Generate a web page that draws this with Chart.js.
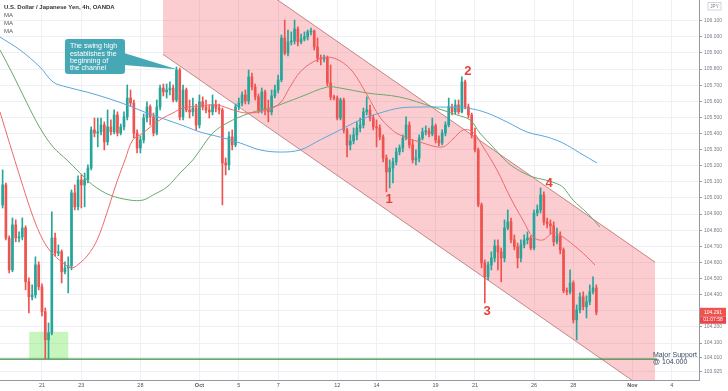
<!DOCTYPE html>
<html>
<head>
<meta charset="utf-8">
<title>USDJPY 4h</title>
<script src="https://cdn.jsdelivr.net/npm/chart.js@4.4.0/dist/chart.umd.min.js"></script>
<style>
html, body { margin: 0; padding: 0; background: #fff; }
#wrap { width: 728px; height: 391px; position: relative; }
</style>
</head>
<body>
<div id="wrap"><canvas id="chart"></canvas></div>
<script>
// bar index: 0 = Mon 21 Sep 00:00, one step per 4h candle (6 per trading day)
var firstBar = -12;

var opens = [
  104.957, 105.081, 104.752, 104.554, 104.833, 104.752, 104.759, 104.814, 104.480, 104.387,
  104.399, 104.585, 104.449, 104.294, 104.120, 104.163, 104.752, 104.659, 104.666, 104.542,
  104.566, 104.579, 105.031, 104.945, 105.112, 105.081, 105.112, 105.186, 105.422, 105.403,
  105.410, 105.453, 105.348, 105.441, 105.410, 105.515, 105.403, 105.441, 105.503, 105.620,
  105.589, 105.403, 105.310, 105.360, 105.496, 105.565, 105.503, 105.403, 105.565, 105.682,
  105.658, 105.670, 105.682, 105.608, 105.794, 105.503, 105.670, 105.546, 105.534, 105.558,
  105.453, 105.596, 105.565, 105.546, 105.534, 105.577, 105.558, 105.546, 105.217, 105.205,
  105.379, 105.329, 105.565, 105.589, 105.639, 105.602, 105.751, 105.689, 105.627, 105.546,
  105.658, 105.546, 105.534, 105.633, 105.670, 105.732, 105.992, 105.899, 105.968, 105.974,
  106.048, 105.968, 105.986, 105.999, 106.030, 106.036, 105.937, 105.868, 105.862, 105.868,
  105.713, 105.627, 105.620, 105.496, 105.608, 105.422, 105.329, 105.354, 105.391, 105.434,
  105.453, 105.534, 105.546, 105.496, 105.441, 105.434, 105.379, 105.248, 105.162, 105.186,
  105.224, 105.286, 105.310, 105.372, 105.453, 105.329, 105.236, 105.248, 105.372, 105.410,
  105.416, 105.397, 105.447, 105.360, 105.341, 105.403, 105.453, 105.565, 105.534, 105.577,
  105.534, 105.720, 105.565, 105.515, 105.391, 105.298, 104.957, 104.597, 104.511, 104.585,
  104.628, 104.703, 104.666, 104.628, 104.814, 104.852, 104.740, 104.697, 104.628, 104.709,
  104.740, 104.752, 104.690, 104.907, 104.926, 105.019, 104.852, 104.839, 104.827, 104.728,
  104.765, 104.678, 104.424, 104.418, 104.473, 104.244, 104.306, 104.387, 104.325, 104.356,
  104.418, 104.442
];
var highs = [
  105.174, 105.093, 104.765, 104.876, 104.864, 104.790, 104.876, 104.827, 104.504, 104.461,
  104.635, 104.604, 104.467, 104.318, 104.225, 104.914, 104.783, 104.709, 104.678, 104.604,
  104.635, 105.050, 105.081, 105.137, 105.143, 105.155, 105.205, 105.441, 105.496, 105.496,
  105.496, 105.472, 105.546, 105.484, 105.546, 105.534, 105.459, 105.534, 105.701, 105.670,
  105.608, 105.422, 105.385, 105.521, 105.596, 105.577, 105.527, 105.608, 105.701, 105.707,
  105.707, 105.720, 105.701, 105.813, 105.806, 105.701, 105.682, 105.608, 105.620, 105.583,
  105.639, 105.627, 105.608, 105.577, 105.639, 105.608, 105.583, 105.558, 105.248, 105.410,
  105.422, 105.583, 105.620, 105.658, 105.670, 105.794, 105.775, 105.707, 105.645, 105.682,
  105.670, 105.608, 105.670, 105.701, 105.763, 106.011, 106.104, 106.042, 106.030, 106.104,
  106.061, 106.017, 106.030, 106.042, 106.054, 106.042, 105.992, 105.887, 105.887, 105.881,
  105.825, 105.639, 105.633, 105.620, 105.620, 105.434, 105.391, 105.434, 105.472, 105.496,
  105.558, 105.627, 105.577, 105.515, 105.484, 105.453, 105.391, 105.267, 105.236, 105.248,
  105.310, 105.329, 105.391, 105.503, 105.472, 105.360, 105.298, 105.391, 105.434, 105.447,
  105.434, 105.496, 105.459, 105.385, 105.422, 105.472, 105.620, 105.583, 105.608, 105.608,
  105.751, 105.732, 105.583, 105.527, 105.434, 105.310, 104.969, 104.616, 104.604, 104.666,
  104.740, 104.740, 104.690, 104.864, 104.926, 104.876, 104.771, 104.721, 104.740, 104.771,
  104.790, 104.765, 104.926, 104.957, 105.062, 105.038, 104.876, 104.864, 104.852, 104.814,
  104.790, 104.690, 104.442, 104.554, 104.486, 104.337, 104.411, 104.418, 104.393, 104.461,
  104.511, 104.461
];
var lows = [
  104.938, 104.740, 104.535, 104.542, 104.728, 104.728, 104.740, 104.430, 104.287, 104.368,
  104.380, 104.430, 104.269, 104.002, 104.002, 104.151, 104.641, 104.641, 104.473, 104.529,
  104.411, 104.554, 104.926, 104.926, 104.938, 104.945, 105.093, 105.174, 105.379, 105.317,
  105.391, 105.298, 105.329, 105.391, 105.397, 105.385, 105.391, 105.422, 105.484, 105.571,
  105.372, 105.279, 105.279, 105.341, 105.472, 105.453, 105.385, 105.391, 105.546, 105.633,
  105.620, 105.639, 105.596, 105.596, 105.484, 105.484, 105.534, 105.496, 105.509, 105.422,
  105.434, 105.546, 105.527, 105.496, 105.515, 105.534, 105.521, 104.957, 105.143, 105.174,
  105.298, 105.317, 105.546, 105.571, 105.583, 105.583, 105.670, 105.608, 105.527, 105.527,
  105.515, 105.472, 105.515, 105.620, 105.651, 105.720, 105.887, 105.881, 105.949, 105.955,
  105.943, 105.955, 105.974, 105.980, 106.011, 105.918, 105.844, 105.825, 105.844, 105.695,
  105.608, 105.608, 105.484, 105.484, 105.403, 105.255, 105.298, 105.335, 105.360, 105.410,
  105.434, 105.515, 105.478, 105.422, 105.317, 105.360, 105.224, 105.038, 105.062, 105.093,
  105.205, 105.267, 105.286, 105.360, 105.310, 105.217, 105.205, 105.224, 105.360, 105.391,
  105.379, 105.385, 105.341, 105.323, 105.329, 105.385, 105.441, 105.515, 105.521, 105.521,
  105.527, 105.552, 105.496, 105.372, 105.286, 104.945, 104.566, 104.349, 104.492, 104.554,
  104.604, 104.554, 104.480, 104.604, 104.802, 104.721, 104.678, 104.566, 104.604, 104.690,
  104.715, 104.678, 104.678, 104.889, 104.907, 104.833, 104.814, 104.777, 104.703, 104.715,
  104.653, 104.411, 104.399, 104.405, 104.225, 104.120, 104.287, 104.306, 104.256, 104.337,
  104.405, 104.275
];
var closes = [
  105.081, 104.752, 104.554, 104.833, 104.752, 104.759, 104.814, 104.480, 104.387, 104.399,
  104.585, 104.449, 104.294, 104.120, 104.163, 104.752, 104.659, 104.666, 104.542, 104.566,
  104.579, 105.031, 104.945, 105.112, 105.081, 105.112, 105.186, 105.422, 105.403, 105.410,
  105.453, 105.348, 105.441, 105.410, 105.515, 105.403, 105.441, 105.503, 105.620, 105.589,
  105.403, 105.310, 105.360, 105.496, 105.565, 105.503, 105.403, 105.565, 105.682, 105.658,
  105.670, 105.682, 105.608, 105.794, 105.503, 105.670, 105.546, 105.534, 105.558, 105.453,
  105.596, 105.565, 105.546, 105.534, 105.577, 105.558, 105.546, 105.217, 105.205, 105.379,
  105.329, 105.565, 105.589, 105.639, 105.602, 105.751, 105.689, 105.627, 105.546, 105.658,
  105.546, 105.534, 105.633, 105.670, 105.732, 105.992, 105.899, 105.968, 105.974, 106.048,
  105.968, 105.986, 105.999, 106.030, 106.036, 105.937, 105.868, 105.862, 105.868, 105.713,
  105.627, 105.620, 105.496, 105.608, 105.422, 105.329, 105.354, 105.391, 105.434, 105.453,
  105.534, 105.546, 105.496, 105.441, 105.434, 105.379, 105.248, 105.162, 105.186, 105.224,
  105.286, 105.310, 105.372, 105.453, 105.329, 105.236, 105.248, 105.372, 105.410, 105.416,
  105.397, 105.447, 105.360, 105.341, 105.403, 105.453, 105.565, 105.534, 105.577, 105.534,
  105.720, 105.565, 105.515, 105.391, 105.298, 104.957, 104.597, 104.511, 104.585, 104.628,
  104.703, 104.666, 104.628, 104.814, 104.852, 104.740, 104.697, 104.628, 104.709, 104.740,
  104.752, 104.690, 104.907, 104.926, 105.019, 104.852, 104.839, 104.827, 104.728, 104.765,
  104.678, 104.424, 104.418, 104.473, 104.244, 104.306, 104.387, 104.325, 104.356, 104.418,
  104.442, 104.291
];

// moving averages (bar index, price)
var maFastBars = [-12.8, -6.7, -2.7, 0.3, 3.0, 6.1, 9.1, 11.6, 14.0, 16.8, 19.8, 22.3, 25.3, 27.7, 30.8, 33.8, 36.9, 39.9, 43.0, 48.2,
  53.4, 58.2, 62.5, 68.6, 72.6, 75.6, 78.7, 82.6, 86.9, 90.9, 94.8, 99.1, 103.0, 106.1, 109.1, 115.2, 122.0, 125.3, 128.4, 131.4,
  134.5, 138.7, 142.7, 146.6, 149.7, 152.7, 155.8, 158.8, 163.1, 166.2, 168.6];
var maFast = [105.533, 105.130, 104.882, 104.739, 104.659, 104.603, 104.566, 104.597, 104.646, 104.739, 104.907, 105.068, 105.236, 105.360, 105.403, 105.453, 105.496, 105.527, 105.558, 105.571,
  105.577, 105.546, 105.527, 105.546, 105.589, 105.688, 105.781, 105.843, 105.874, 105.850, 105.781, 105.639, 105.502, 105.434, 105.391, 105.347, 105.316, 105.366, 105.422, 105.409,
  105.316, 105.174, 105.006, 104.863, 104.758, 104.739, 104.783, 104.758, 104.690, 104.634, 104.584];

var maMidBars = [-12.8, -8.8, -4.6, -0.6, 3.4, 7.6, 11.6, 15.5, 20.7, 26.8, 30.8, 33.8, 38.1, 42.1, 46.0, 48.2, 52.1, 56.4, 63.4, 70.4,
  78.7, 86.9, 90.9, 99.1, 109.1, 119.2, 126.5, 130.5, 133.5, 137.5, 141.8, 145.7, 149.7, 153.4, 156.4, 158.8, 161.9, 166.2, 170.1];
var maMid = [105.918, 105.763, 105.589, 105.434, 105.316, 105.236, 105.155, 105.080, 105.018, 104.987, 104.987, 105.018, 105.068, 105.155, 105.236, 105.298, 105.403, 105.465, 105.527, 105.564,
  105.626, 105.688, 105.682, 105.651, 105.626, 105.564, 105.515, 105.484, 105.403, 105.316, 105.223, 105.167, 105.130, 105.112, 105.093, 105.068, 104.987, 104.907, 104.820];

var maSlowBars = [-12.8, -6.7, -0.6, 3.4, 7.6, 13.7, 19.8, 25.9, 32.0, 38.1, 44.2, 48.2, 54.3, 60.4, 66.5, 72.6, 78.7, 84.8, 90.9, 97.0,
  103.0, 109.1, 115.2, 121.3, 129.6, 135.7, 141.8, 147.9, 154.0, 158.8, 164.0, 169.2];
var maSlow = [105.998, 105.918, 105.812, 105.719, 105.688, 105.657, 105.620, 105.577, 105.527, 105.484, 105.440, 105.409, 105.378, 105.341, 105.298, 105.285, 105.298, 105.360, 105.422, 105.484,
  105.527, 105.558, 105.564, 105.564, 105.558, 105.527, 105.471, 105.409, 105.378, 105.341, 105.279, 105.217];

// descending channel and support
var channelBars = [36.9, 186.9];
var channelUpper = [106.722, 104.602];
var channelLower = [105.891, 103.770];
var supportBars = [-12.8, 187.5];
var supportPrice = 104.0;
var zoneBars = [-3.9, 8.0];
var zonePrices = [104.170, 104.002];

// axis ticks
var tickBars = [0, 12, 30, 48, 60, 72, 90, 102, 120, 132, 150, 162, 180, 192];
var tickLabels = ['21', '23', '28', 'Oct', '5', '7', '12', '14', '19', '21', '26', '28', 'Nov', '4'];
var priceTicks = [106.1, 106.0, 105.9, 105.8, 105.7, 105.6, 105.5, 105.4, 105.3, 105.2, 105.1, 105.0,
  104.9, 104.8, 104.7, 104.6, 104.5, 104.4, 104.3, 104.2, 104.1, 104.01, 103.925];

// annotations
var calloutBars = [7.0, 25.3];
var calloutPrices = [105.986, 105.769];
var calloutTip = [41.1, 105.798];
var calloutLines = ['The swing high', 'establishes the', 'beginning of', 'the channel'];
var swingLabels = ['1', '2', '3', '4'];
var swingBars = [105.8, 129.8, 135.7, 154.6];
var swingPrices = [104.988, 105.783, 104.294, 105.093];

var UP = '#26a69a', DOWN = '#ef5350';
var FONT = "'Liberation Sans', Arial, sans-serif";
Chart.defaults.font.family = FONT;

function pts(xs, ys) {
  return xs.map(function (x, i) { return { x: x, y: ys[i] }; });
}

var wickData = [], bodyData = [], candleColors = [];
for (var i = 0; i < closes.length; i++) {
  wickData.push({ x: firstBar + i, y: [lows[i], highs[i]] });
  bodyData.push({ x: firstBar + i, y: [opens[i], closes[i]] });
  candleColors.push(closes[i] >= opens[i] ? UP : DOWN);
}

function getXY(chart, bar, price) {
  return [chart.scales.x.getPixelForValue(bar), chart.scales.y.getPixelForValue(price)];
}

var overlay = {
  id: 'overlay',
  beforeDatasetsDraw: function (chart) {
    var ctx = chart.ctx;
    var a = getXY(chart, zoneBars[0], zonePrices[0]);
    var b = getXY(chart, zoneBars[1], zonePrices[1]);
    ctx.save();
    ctx.fillStyle = 'rgba(120, 232, 100, 0.42)';
    ctx.fillRect(a[0], a[1], b[0] - a[0], b[1] - a[1]);
    ctx.restore();
  },
  afterDatasetsDraw: function (chart) {
    var ctx = chart.ctx;
    ctx.save();

    // callout
    var p0 = getXY(chart, calloutBars[0], calloutPrices[0]);
    var p1 = getXY(chart, calloutBars[1], calloutPrices[1]);
    var tip = getXY(chart, calloutTip[0], calloutTip[1]);
    var h = p1[1] - p0[1];
    ctx.fillStyle = '#47a8b5';
    ctx.beginPath();
    ctx.roundRect(p0[0], p0[1], p1[0] - p0[0], h, 3);
    ctx.fill();
    ctx.beginPath();
    ctx.moveTo(p1[0] - 1, p0[1] + h * 0.40);
    ctx.lineTo(tip[0], tip[1]);
    ctx.lineTo(p1[0] - 1, p0[1] + h * 0.74);
    ctx.closePath();
    ctx.fill();
    ctx.fillStyle = '#ffffff';
    ctx.font = '7px ' + FONT;
    ctx.textBaseline = 'middle';
    ctx.textAlign = 'left';
    calloutLines.forEach(function (t, i) {
      ctx.fillText(t, p0[0] + 5, p0[1] + 7.5 + i * 7.1);
    });

    // swing numbers
    ctx.fillStyle = '#e8403a';
    ctx.font = '600 13px ' + FONT;
    ctx.textAlign = 'center';
    swingLabels.forEach(function (t, i) {
      var p = getXY(chart, swingBars[i], swingPrices[i]);
      ctx.fillText(t, p[0], p[1]);
    });

    // support label
    var s = getXY(chart, supportBars[1], supportPrice);
    ctx.fillStyle = '#3c4a5e';
    ctx.font = '7px ' + FONT;
    ctx.textAlign = 'left';
    ctx.fillText('Major Support', s[0] - 4, s[1] - 4);
    ctx.fillText('@ 104.000', s[0] - 4, s[1] + 2.5);

    // legend text
    ctx.fillStyle = '#333333';
    ctx.font = '600 6px ' + FONT;
    ctx.fillText('U.S. Dollar / Japanese Yen, 4h, OANDA', 4, 7);
    ctx.fillStyle = '#555555';
    ctx.font = '6px ' + FONT;
    ctx.fillText('MA', 4, 15);
    ctx.fillText('MA', 4, 23);
    ctx.fillText('MA', 4, 31);
    ctx.restore();
  },
  afterDraw: function (chart) {
    var ctx = chart.ctx, area = chart.chartArea;
    var last = closes.length - 1;
    var yp = chart.scales.y.getPixelForValue(closes[last]);
    var x0 = area.right + 1, w = 26;
    ctx.save();
    ctx.fillStyle = DOWN;
    ctx.fillRect(x0, yp - 4.5, w, 8.5);
    ctx.fillStyle = '#e8464a';
    ctx.fillRect(x0, yp + 4, w, 7.5);
    ctx.fillStyle = '#ffffff';
    ctx.font = '5px ' + FONT;
    ctx.textAlign = 'center';
    ctx.textBaseline = 'middle';
    ctx.fillText(closes[last].toFixed(3), x0 + w / 2, yp);
    ctx.fillText('01:07:58', x0 + w / 2, yp + 7.8);
    // currency box
    ctx.fillStyle = '#ffffff';
    ctx.fillRect(x0 + 8, 2.5, 13, 7.5);
    ctx.strokeStyle = '#c8cad0';
    ctx.lineWidth = 0.8;
    ctx.strokeRect(x0 + 8, 2.5, 13, 7.5);
    ctx.fillStyle = '#787b86';
    ctx.font = '4.5px ' + FONT;
    ctx.fillText('JPY', x0 + 14.5, 6.4);
    ctx.restore();
  }
};

new Chart(document.getElementById('chart'), {
  type: 'bar',
  data: {
    datasets: [
      { type: 'line', data: pts(channelBars, channelUpper), borderColor: 'rgba(176, 104, 104, 0.75)', borderWidth: 1,
        pointRadius: 0, fill: false, order: 7 },
      { type: 'line', data: pts(channelBars, channelLower), borderColor: 'rgba(176, 104, 104, 0.75)', borderWidth: 1,
        pointRadius: 0, fill: '-1', backgroundColor: 'rgba(244, 62, 72, 0.26)', order: 6 },
      { type: 'line', data: [{ x: supportBars[0], y: supportPrice }, { x: supportBars[1], y: supportPrice }],
        borderColor: '#3b8a3e', borderWidth: 1.3, pointRadius: 0, fill: false, order: 5 },
      { type: 'bar', data: wickData, backgroundColor: candleColors, barThickness: 1, grouped: false, order: 4 },
      { type: 'bar', data: bodyData, backgroundColor: candleColors, barThickness: 2, minBarLength: 1, grouped: false, order: 3 },
      { type: 'line', data: pts(maSlowBars, maSlow), borderColor: '#5aa7dd', borderWidth: 1, pointRadius: 0,
        tension: 0.35, fill: false, order: 2 },
      { type: 'line', data: pts(maMidBars, maMid), borderColor: '#6aa86a', borderWidth: 1, pointRadius: 0,
        tension: 0.35, fill: false, order: 1 },
      { type: 'line', data: pts(maFastBars, maFast), borderColor: '#f0686a', borderWidth: 1, pointRadius: 0,
        tension: 0.35, fill: false, order: 0 }
    ]
  },
  options: {
    responsive: true,
    maintainAspectRatio: false,
    animation: false,
    layout: { padding: 0 },
    plugins: { legend: { display: false }, tooltip: { enabled: false } },
    scales: {
      x: {
        type: 'linear',
        offset: false,
        min: -12.8,
        max: 200.3,
        afterBuildTicks: function (s) { s.ticks = tickBars.map(function (v) { return { value: v }; }); },
        afterFit: function (s) { s.height = 11; s.paddingLeft = 0; s.paddingRight = 0; },
        ticks: {
          autoSkip: false,
          maxRotation: 0,
          padding: 2,
          color: '#50535e',
          font: function (c) {
            var lbl = tickLabels[tickBars.indexOf(c.tick ? c.tick.value : -1)];
            return { size: 5.5, weight: (lbl === 'Oct' || lbl === 'Nov') ? 'bold' : 'normal' };
          },
          callback: function (v) { return tickLabels[tickBars.indexOf(v)]; }
        },
        grid: { color: '#eef0f4', drawTicks: false, offset: false },
        border: { color: '#9598a1' }
      },
      y: {
        position: 'right',
        min: 103.871,
        max: 106.228,
        afterBuildTicks: function (s) { s.ticks = priceTicks.map(function (v) { return { value: v }; }); },
        afterFit: function (s) { s.width = 29; s.paddingTop = 0; s.paddingBottom = 0; },
        ticks: {
          padding: 2,
          color: '#787b86',
          font: { size: 5 },
          callback: function (v) { return v.toFixed(3); }
        },
        grid: { color: '#eef0f4', tickColor: '#9598a1', tickLength: 3 },
        border: { color: '#9598a1' }
      }
    }
  },
  plugins: [overlay]
});
</script>
</body>
</html>
